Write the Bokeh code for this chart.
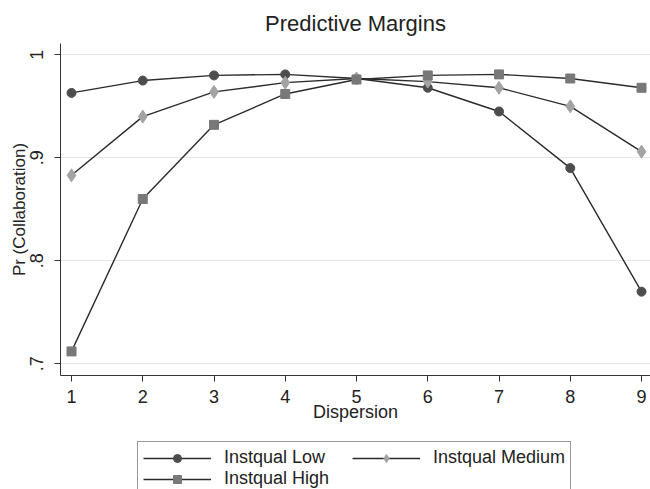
from bokeh.plotting import figure
from bokeh.layouts import column
from bokeh.models import Legend, LegendItem, FixedTicker, Range1d
from bokeh.embed import file_html
from bokeh.resources import INLINE

# ---- data ----
dispersion = [1, 2, 3, 4, 5, 6, 7, 8, 9]
instqual_low = [0.963, 0.975, 0.980, 0.981, 0.977, 0.968, 0.945, 0.890, 0.770]
instqual_medium = [0.883, 0.940, 0.964, 0.973, 0.977, 0.974, 0.968, 0.950, 0.906]
instqual_high = [0.712, 0.860, 0.932, 0.962, 0.976, 0.980, 0.981, 0.977, 0.968]
series_names = ["Instqual Low", "Instqual Medium", "Instqual High"]
y_ticks = [0.7, 0.8, 0.9, 1.0]
y_tick_labels = [".7", ".8", ".9", "1"]
x_ticks = dispersion

FONT = "Liberation Sans"
TXT = "#222222"
LINE = "#2b2b2b"
specs = [
    ("circle", "#4d4d4d", 9, 7),
    ("diamond", "#a3a3a3", 13, 10),
    ("square", "#787878", 9, 8),
]
series = [instqual_low, instqual_medium, instqual_high]

p = figure(width=650, height=432, output_backend="svg", toolbar_location=None,
           x_range=Range1d(0.8456, 9.126), y_range=Range1d(0.6886, 1.011),
           min_border_left=60, min_border_right=0, min_border_top=43,
           min_border_bottom=57)
p.outline_line_color = None
p.background_fill_color = "white"
p.border_fill_color = "white"

p.title.text = "Predictive Margins"
p.title.align = "center"
p.title.text_font = FONT
p.title.text_font_size = "22px"
p.title.text_font_style = "normal"
p.title.text_color = TXT
p.title.standoff = 16

# grid
p.xgrid.grid_line_color = None
p.ygrid.ticker = FixedTicker(ticks=y_ticks)
p.ygrid.grid_line_color = "#e6e6e6"
p.ygrid.grid_line_width = 1

# axes
for ax in (p.xaxis[0], p.yaxis[0]):
    ax.axis_line_color = "#333333"
    ax.major_tick_line_color = "#333333"
    ax.minor_tick_line_color = None
    ax.major_tick_out = 6
    ax.major_tick_in = 0
    ax.major_label_text_font = FONT
    ax.major_label_text_font_size = "18px"
    ax.major_label_text_color = TXT
    ax.axis_label_text_font = FONT
    ax.axis_label_text_font_style = "normal"
    ax.axis_label_text_color = TXT

p.xaxis.ticker = FixedTicker(ticks=x_ticks)
p.xaxis.axis_label = "Dispersion"
p.xaxis.axis_label_text_font_size = "18px"
p.xaxis.major_label_standoff = 8
p.xaxis.axis_label_standoff = -4

p.yaxis.ticker = FixedTicker(ticks=y_ticks)
p.yaxis.major_label_overrides = {t: l for t, l in zip(y_ticks, y_tick_labels)}
p.yaxis.major_label_orientation = "vertical"
p.yaxis.axis_label = "Pr (Collaboration)"
p.yaxis.axis_label_text_font_size = "17px"
p.yaxis.major_label_standoff = 11
p.yaxis.axis_label_standoff = -1

for vals, (marker, color, size, _) in zip(series, specs):
    p.line(dispersion, vals, line_color=LINE, line_width=1.4)
    p.scatter(dispersion, vals, marker=marker, size=size,
              fill_color=color, line_color=color)

# ---- legend strip below the plot (its data lies outside its view) ----
leg = figure(width=650, height=57, output_backend="svg", toolbar_location=None,
             x_range=Range1d(0, 1), y_range=Range1d(10, 11),
             x_axis_type=None, y_axis_type=None,
             min_border=0, min_border_left=0, min_border_right=0,
             min_border_top=0, min_border_bottom=0)
leg.outline_line_color = None
leg.xgrid.grid_line_color = None
leg.ygrid.grid_line_color = None

items = []
for name, vals, (marker, color, _, lsize) in zip(series_names, series, specs):
    ln = leg.line(dispersion, vals, line_color=LINE, line_width=1.4)
    sc = leg.scatter(dispersion, vals, marker=marker, size=lsize,
                     fill_color=color, line_color=color)
    items.append(LegendItem(label=name, renderers=[ln, sc]))

legend = Legend(items=items, orientation="horizontal", ncols=2,
                location=(77, -6))
legend.label_text_font = FONT
legend.label_text_font_size = "18px"
legend.label_text_color = TXT
legend.glyph_width = 68
legend.glyph_height = 20
legend.label_height = 20
legend.label_width = 128
legend.label_standoff = 13
legend.spacing = 0
legend.padding = 5
legend.margin = 0
legend.border_line_color = "#333333"
legend.border_line_width = 1
legend.background_fill_alpha = 1
leg.add_layout(legend, "center")

layout = column(p, leg, spacing=0)
open("out.html", "w").write(file_html(layout, INLINE))
